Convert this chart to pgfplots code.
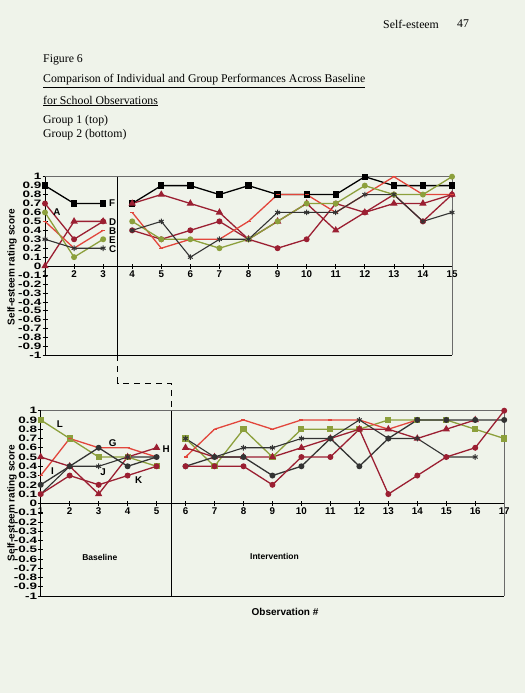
\documentclass[border=0pt]{standalone}
\usepackage{pgfplots}
\pgfplotsset{compat=1.18}
\usepackage{fontspec}
\setmainfont{Liberation Serif}
\setsansfont{Liberation Sans}
\newfontfamily\ytickfont[FakeStretch=1.45]{Liberation Sans}
\definecolor{bg}{HTML}{EFF3EA}
\definecolor{myred}{HTML}{E2463C}
\definecolor{maroon}{HTML}{9B1F32}
\definecolor{olive}{HTML}{8CA03C}
\definecolor{framegray}{HTML}{6A6A6A}
\definecolor{dgray}{HTML}{333333}

\tikzset{lab/.style={font=\sffamily\bfseries\fontsize{9.8bp}{9.8bp}\selectfont, inner sep=0pt}}

\pgfplotsset{
  chart/.style={
    scale only axis, ymin=-1, ymax=1,
    axis x line*=middle, axis y line*=left,
    hide obscured x ticks=false, hide obscured y ticks=false,
    axis line style={black, line width=0.8bp},
    tick align=center, major tick length=5bp,
    every tick/.style={black, line width=0.7bp},
    /pgf/number format/assume math mode=true,
    xticklabel style={font=\sffamily\bfseries\fontsize{9.8bp}{9.8bp}\selectfont, inner sep=2bp},
    yticklabel style={font=\ytickfont\bfseries\fontsize{9.3bp}{9.3bp}\selectfont, inner sep=1bp},
    ytick={-1,-0.9,-0.8,-0.7,-0.6,-0.5,-0.4,-0.3,-0.2,-0.1,0,0.1,0.2,0.3,0.4,0.5,0.6,0.7,0.8,0.9,1},
    yticklabels={-1,-0.9,-0.8,-0.7,-0.6,-0.5,-0.4,-0.3,-0.2,-0.1,0,0.1,0.2,0.3,0.4,0.5,0.6,0.7,0.8,0.9,1},
    unbounded coords=jump, clip=false,
  },
  sBlackSq/.style={black, line width=1.3bp, mark=square*, mark size=2.5bp, mark options={solid}},
  sMarTri/.style={maroon, line width=1.3bp, mark=triangle*, mark size=3bp},
  sMarCirc/.style={maroon, line width=1.3bp, mark=*, mark size=2.3bp},
  sRed/.style={myred, line width=1.3bp, mark=-, mark size=2bp},
  sOliveCirc/.style={olive, line width=1.3bp, mark=*, mark size=2.3bp},
  sOliveSq/.style={olive, line width=1.3bp, mark=square*, mark size=2.4bp},
  sX/.style={dgray, line width=1.1bp, mark=asterisk, mark size=2.8bp, mark options={line width=1bp}},
  sBlackCirc/.style={dgray, line width=1.3bp, mark=*, mark size=2.3bp},
}

\begin{document}
\begin{tikzpicture}[x=1bp,y=1bp]
\fill[bg] (0,0) rectangle (525,693);

% header and caption
\begin{scope}[every node/.style={inner sep=0pt, font=\fontsize{11.8bp}{14bp}\selectfont}]
\node[anchor=west] at (383,669) {Self-esteem};
\node[anchor=west] at (457,669) {47};
\node[anchor=west] at (43,633) {Figure 6};
\node[anchor=west] at (43,612) {\underline{Comparison of Individual and Group Performances Across Baseline}};
\node[anchor=west] at (43,592) {\underline{for School Observations}};
\node[anchor=west] at (43,572) {Group 1 (top)};
\node[anchor=west] at (43,558) {Group 2 (bottom)};
\end{scope}

% ---------------- Group 1 (top) ----------------
\begin{axis}[chart, at={(45bp,337.5bp)}, anchor=south west,
  width=407bp, height=178.8bp, xmin=1, xmax=15,
  xtick={1,2,...,15}]
\draw[framegray, line width=0.6bp] (rel axis cs:0,1) -- (rel axis cs:1,1) -- (rel axis cs:1,0);
\draw[black, line width=0.8bp] (rel axis cs:1,0) -- (rel axis cs:0,0);
\addplot[sBlackSq] coordinates {(1,0.9)(2,0.7)(3,0.7)(3.5,nan)(4,0.7)(5,0.9)(6,0.9)(7,0.8)(8,0.9)(9,0.8)(10,0.8)(11,0.8)(12,1.0)(13,0.9)(14,0.9)(15,0.9)};
\addplot[sMarTri] coordinates {(1,0)(2,0.5)(3,0.5)(3.5,nan)(4,0.7)(5,0.8)(6,0.7)(7,0.6)(8,0.3)(9,0.5)(10,0.7)(11,0.4)(12,0.6)(13,0.7)(14,0.7)(15,0.8)};
\addplot[sMarCirc] coordinates {(1,0.7)(2,0.3)(3,0.5)(3.5,nan)(4,0.4)(5,0.3)(6,0.4)(7,0.5)(8,0.3)(9,0.2)(10,0.3)(11,0.7)(12,0.6)(13,0.8)(14,0.5)(15,0.8)};
\addplot[sRed] coordinates {(1,0.5)(2,0.2)(3,0.4)(3.5,nan)(4,0.6)(5,0.2)(6,0.3)(7,0.3)(8,0.5)(9,0.8)(10,0.8)(11,0.6)(12,0.8)(13,1.0)(14,0.8)(15,0.8)};
\addplot[sOliveCirc] coordinates {(1,0.6)(2,0.1)(3,0.3)(3.5,nan)(4,0.5)(5,0.3)(6,0.3)(7,0.2)(8,0.3)(9,0.5)(10,0.7)(11,0.7)(12,0.9)(13,0.8)(14,0.8)(15,1.0)};
\addplot[sX] coordinates {(1,0.3)(2,0.2)(3,0.2)(3.5,nan)(4,0.4)(5,0.5)(6,0.1)(7,0.3)(8,0.3)(9,0.6)(10,0.6)(11,0.6)(12,0.8)(13,0.8)(14,0.5)(15,0.6)};
\node[lab, anchor=west] at (axis cs:1.28,0.6) {A};
\node[lab, anchor=west] at (axis cs:3.2,0.7) {F};
\node[lab, anchor=west] at (axis cs:3.2,0.49) {D};
\node[lab, anchor=west] at (axis cs:3.2,0.39) {B};
\node[lab, anchor=west] at (axis cs:3.2,0.29) {E};
\node[lab, anchor=west] at (axis cs:3.2,0.19) {C};
\draw[black, line width=1bp] (axis cs:3.5,1) -- (axis cs:3.5,-1);
\end{axis}

% ---------------- Group 2 (bottom) ----------------
\begin{axis}[chart, at={(40.7bp,97bp)}, anchor=south west,
  width=463.5bp, height=185.3bp, xmin=1, xmax=17,
  xtick={1,2,...,17}]
\draw[framegray, line width=0.6bp] (rel axis cs:0,1) -- (rel axis cs:1,1) -- (rel axis cs:1,0);
\draw[black, line width=0.8bp] (rel axis cs:1,0) -- (rel axis cs:0,0);
\addplot[sOliveSq] coordinates {(1,0.9)(2,0.7)(3,0.5)(4,0.5)(5,0.4)(5.5,nan)(6,0.7)(7,0.4)(8,0.8)(9,0.5)(10,0.8)(11,0.8)(12,0.8)(13,0.9)(14,0.9)(15,0.9)(16,0.8)(17,0.7)};
\addplot[sRed] coordinates {(1,0.3)(2,0.7)(3,0.6)(4,0.6)(5,0.5)(5.5,nan)(6,0.5)(7,0.8)(8,0.9)(9,0.8)(10,0.9)(11,0.9)(12,0.9)(13,0.8)(14,0.9)};
\addplot[sMarTri] coordinates {(1,0.5)(2,0.4)(3,0.1)(4,0.5)(5,0.6)(5.5,nan)(6,0.6)(7,0.5)(8,0.5)(9,0.5)(10,0.6)(11,0.7)(12,0.8)(13,0.8)(14,0.7)(15,0.8)(16,0.9)};
\addplot[sBlackCirc] coordinates {(1,0.2)(2,0.4)(3,0.6)(4,0.4)(5,0.5)(5.5,nan)(6,0.4)(7,0.5)(8,0.5)(9,0.3)(10,0.4)(11,0.7)(12,0.4)(13,0.7)(14,0.9)(15,0.9)(16,0.9)(17,0.9)};
\addplot[sX] coordinates {(1,0.1)(2,0.4)(3,0.4)(4,0.5)(5,0.5)(5.5,nan)(6,0.7)(7,0.5)(8,0.6)(9,0.6)(10,0.7)(11,0.7)(12,0.9)(13,0.7)(14,0.7)(15,0.5)(16,0.5)};
\addplot[sMarCirc] coordinates {(1,0.1)(2,0.3)(3,0.2)(4,0.3)(5,0.4)(5.5,nan)(6,0.4)(7,0.4)(8,0.4)(9,0.2)(10,0.5)(11,0.5)(12,0.8)(13,0.1)(14,0.3)(15,0.5)(16,0.6)(17,1.0)};
\node[lab, anchor=west] at (axis cs:1.55,0.86) {L};
\node[lab, anchor=west] at (axis cs:3.35,0.65) {G};
\node[lab, anchor=west] at (axis cs:5.2,0.59) {H};
\node[lab, anchor=west] at (axis cs:1.35,0.35) {I};
\node[lab, anchor=west] at (axis cs:3.05,0.34) {J};
\node[lab, anchor=west] at (axis cs:4.25,0.25) {K};
\node[font=\sffamily\bfseries\fontsize{8.5bp}{8.5bp}\selectfont] at (axis cs:3.04,-0.58) {Baseline};
\node[font=\sffamily\bfseries\fontsize{8.5bp}{8.5bp}\selectfont] at (axis cs:9.07,-0.57) {Intervention};
\draw[black, line width=1bp] (axis cs:5.5,1) -- (axis cs:5.5,-1);
\end{axis}

% dashed connection between the phase lines
\draw[black, line width=0.8bp, dash pattern=on 6bp off 5bp] (117.6,337.5) -- (117.6,310) -- (171.1,310) -- (171.1,282.3);

% axis titles
\node[rotate=90, font=\sffamily\bfseries\fontsize{10bp}{10bp}\selectfont] at (12,426) {Self-esteem rating score};
\node[rotate=90, font=\sffamily\bfseries\fontsize{10bp}{10bp}\selectfont] at (12,190) {Self-esteem rating score};
\node[font=\sffamily\bfseries\fontsize{10bp}{10bp}\selectfont] at (285,81) {Observation \#};
\end{tikzpicture}
\end{document}
